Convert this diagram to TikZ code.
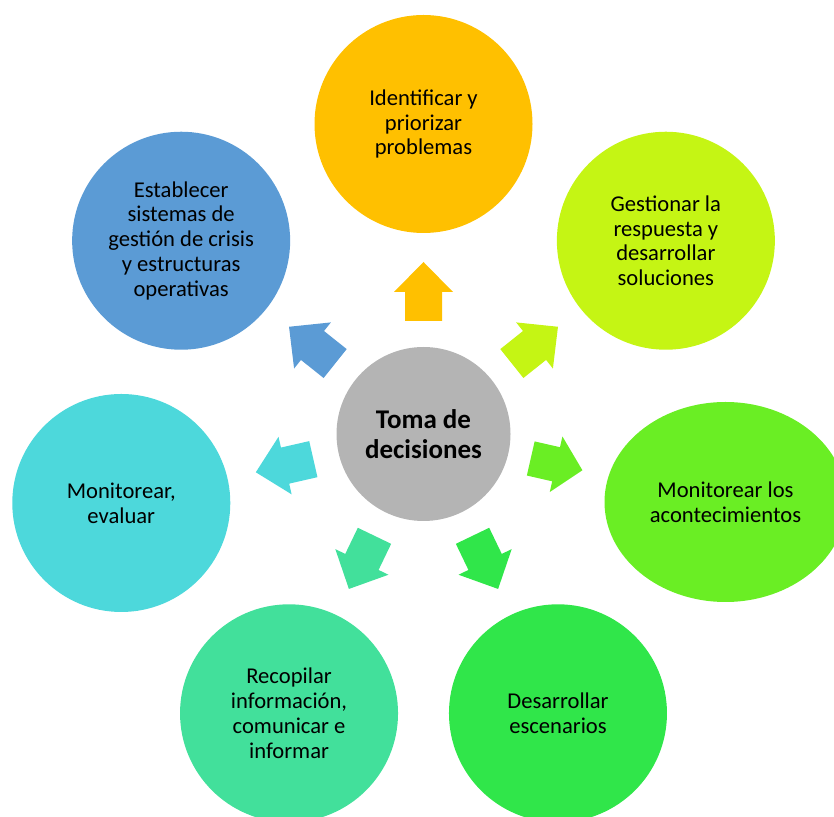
\documentclass[tikz,border=0pt]{standalone}
\usepackage{fontspec}
\setmainfont{Carlito}
\usetikzlibrary{calc,shapes.geometric}
\definecolor{cOrange}{RGB}{255,192,0}
\definecolor{cLime}{RGB}{197,245,20}
\definecolor{cGreenA}{RGB}{106,238,36}
\definecolor{cGreenB}{RGB}{48,230,74}
\definecolor{cMint}{RGB}{66,224,155}
\definecolor{cCyan}{RGB}{77,216,219}
\definecolor{cBlue}{RGB}{91,155,213}
\definecolor{cGray}{RGB}{180,180,180}
\begin{document}
\begin{tikzpicture}[x=1pt,y=1pt,
  bubble/.style={circle, fill=#1, minimum size=218pt, inner sep=0pt, align=center,
    font=\fontsize{22.6}{24.8}\selectfont, text=black},
  hub/.style={circle, fill=cGray, minimum size=174pt, inner sep=0pt, align=center,
    font=\fontsize{27}{30}\selectfont\bfseries, text=black},
  blockarrow/.style={fill=#1, draw=none}]
\useasboundingbox (0,0) rectangle (834,816);
\node[hub] (c) at (423.5,382) {Toma de\\decisiones};
\node[bubble=cOrange] (n1) at ($(c)+(90:310)$) {Identificar y\\priorizar\\problemas};
\node[bubble=cLime] (n2) at ($(c)+(38.57:310)$) {Gestionar la\\respuesta y\\desarrollar\\soluciones};
\node[ellipse, fill=cGreenA, minimum width=242pt, minimum height=200pt, inner sep=0pt, align=center,
  font=\fontsize{22.6}{24.8}\selectfont, text=black] (n3) at (725.5,314) {Monitorear los\\acontecimientos};
\node[bubble=cGreenB] (n4) at ($(c)+(-64.29:310)$) {Desarrollar\\escenarios};
\node[bubble=cMint] (n5) at ($(c)+(-115.71:310)$) {Recopilar\\información,\\comunicar e\\informar};
\node[bubble=cCyan] (n6) at ($(c)+(-167.14:310)$) {Monitorear,\\evaluar};
\node[bubble=cBlue] (n7) at ($(c)+(141.43:310)$) {Establecer\\sistemas de\\gestión de crisis\\y estructuras\\operativas};
\foreach \a/\col/\s/\e/\w/\hw/\hl in {90/cOrange/113/172/18.5/29.5/30,
    38.57/cLime/113/172/18.5/29.5/30,
    -12.86/cGreenA/110/163/17.5/28.5/27,
    -64.29/cGreenB/113/172/18.5/29.5/30,
    -115.71/cMint/113/172/18.5/29.5/30,
    -167.14/cCyan/113/172/18.5/29.5/30,
    141.43/cBlue/113/172/18.5/29.5/30}{
  \begin{scope}[shift={(c.center)}, rotate=\a]
    \fill[blockarrow=\col] (\s,-\w) -- (\e-\hl,-\w) -- (\e-\hl,-\hw) -- (\e,0)
      -- (\e-\hl,\hw) -- (\e-\hl,\w) -- (\s,\w) -- cycle;
  \end{scope}
}
\end{tikzpicture}
\end{document}
